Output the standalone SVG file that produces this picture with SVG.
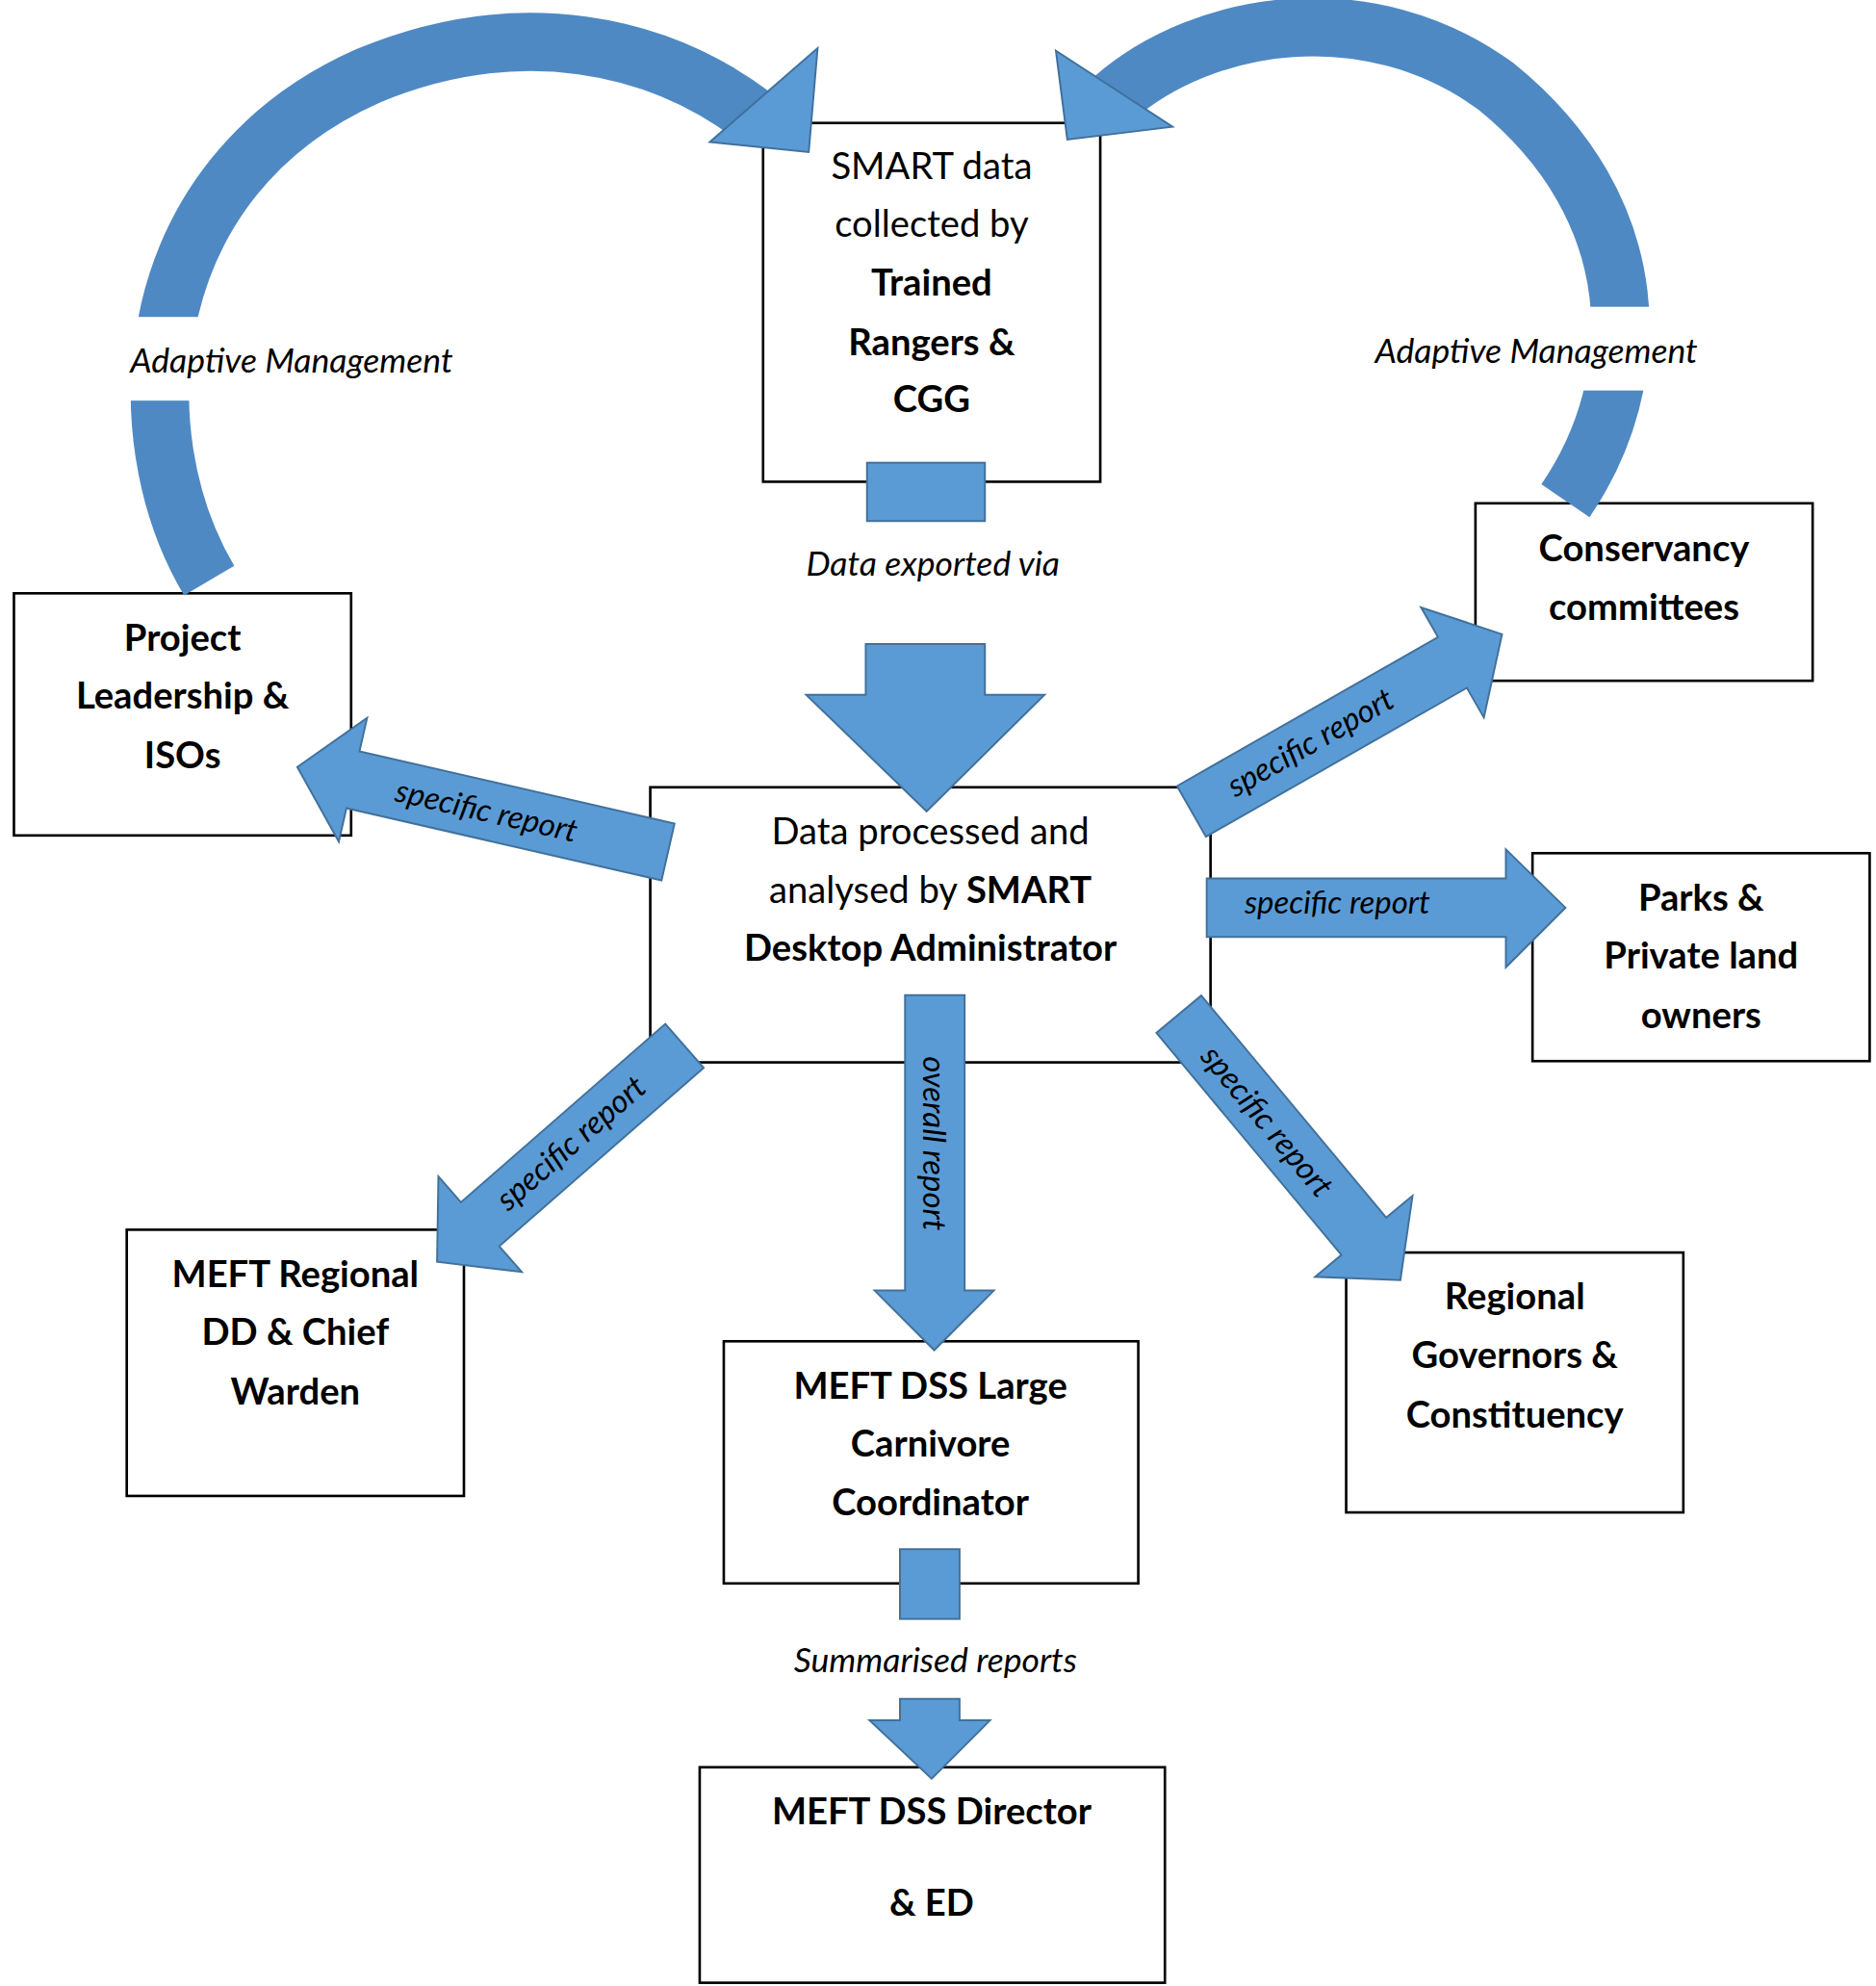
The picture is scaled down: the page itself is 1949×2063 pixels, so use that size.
<svg xmlns="http://www.w3.org/2000/svg" width="1949" height="2063" viewBox="0 0 1949 2063">
<style>
.box{fill:#fff;stroke:#000;stroke-width:2}
.ar{fill:#5b9bd5;stroke:#41719c;stroke-width:1.5}
.arc{fill:none;stroke:#4f89c3;stroke-width:46}
.t{font-family:Lato,"Open Sans",sans-serif;font-size:29px;text-anchor:middle;fill:#000}
.b{font-weight:bold}
.i{font-style:italic;font-size:27px}
.s{font-family:Lato,"Open Sans",sans-serif;font-style:italic;font-size:25px;text-anchor:middle;fill:#000}
</style>
<rect width="1949" height="2063" fill="#fff"/>
<g transform="scale(1.3169)">
<g id="smart"><rect class="box" x="602" y="97" width="266" height="283"/>
  <text class="t" x="735" y="141">SMART data</text><text class="t" x="735" y="187">collected by</text>
  <text class="t b" x="735" y="233">Trained</text><text class="t b" x="735" y="280">Rangers &amp;</text><text class="t b" x="735" y="325">CGG</text></g>
<g id="center"><rect class="box" x="513" y="621" width="442" height="217"/>
  <text class="t" x="734" y="666">Data processed and</text>
  <text class="t" x="734" y="712">analysed by <tspan class="b">SMART</tspan></text>
  <text class="t b" x="734" y="758">Desktop Administrator</text></g>
<g id="project"><rect class="box" x="11" y="468" width="266" height="191"/>
  <text class="t b" x="144" y="513">Project</text><text class="t b" x="144" y="559">Leadership &amp;</text><text class="t b" x="144" y="606">ISOs</text></g>
<g id="conservancy"><rect class="box" x="1164" y="397" width="266" height="140"/>
  <text class="t b" x="1297" y="443">Conservancy</text><text class="t b" x="1297" y="489">committees</text></g>
<g id="parks"><rect class="box" x="1209" y="673" width="266" height="164"/>
  <text class="t b" x="1342" y="718">Parks &amp;</text><text class="t b" x="1342" y="764">Private land</text><text class="t b" x="1342" y="811">owners</text></g>
<g id="regional"><rect class="box" x="100" y="970" width="266" height="210"/>
  <text class="t b" x="233" y="1015">MEFT Regional</text><text class="t b" x="233" y="1061">DD &amp; Chief</text><text class="t b" x="233" y="1108">Warden</text></g>
<g id="carnivore"><rect class="box" x="571" y="1058" width="327" height="191"/>
  <text class="t b" x="734" y="1103">MEFT DSS Large</text><text class="t b" x="734" y="1149">Carnivore</text><text class="t b" x="734" y="1195">Coordinator</text></g>
<g id="governors"><rect class="box" x="1062" y="988" width="266" height="205"/>
  <text class="t b" x="1195" y="1033">Regional</text><text class="t b" x="1195" y="1079">Governors &amp;</text><text class="t b" x="1195" y="1126">Constituency</text></g>
<g id="director"><rect class="box" x="552" y="1394" width="367" height="170"/>
  <text class="t b" x="735" y="1439">MEFT DSS Director</text><text class="t b" x="735" y="1511">&amp; ED</text></g>
<g id="connectors">
  <path class="arc" d="M165,458 C95,340 110,140 290,60 C410,10 520,35 595,92"/>
  <polygon class="ar" points="645,38 638,120 560,112"/>
  <path class="arc" d="M1235,395 C1300,300 1300,165 1180,68 C1080,-5 950,15 878,78"/>
  <polygon class="ar" points="833,40 842,110 925,100"/>
  <rect x="60" y="250" width="340" height="66" fill="#fff"/>
  <rect x="1050" y="242" width="330" height="66" fill="#fff"/>
  <rect class="ar" x="684" y="365" width="93" height="46"/>
  <polygon class="ar" points="683,508 777,508 777,548 824,548 731,640 636,548 683,548"/>
  <rect class="ar" x="710" y="1222" width="47" height="55"/>
  <polygon class="ar" points="710,1340 757,1340 757,1357 781,1357 735,1403 686,1357 710,1357"/>
  <polygon class="ar" points="714,785 761,785 761,1018 784,1018 737,1065 690,1018 714,1018"/>
  <g transform="translate(527,672) rotate(192.9)"><polygon class="ar" points="0,-23 255,-23 255,-50 300,0 255,50 255,23 0,23"/></g>
  <g transform="translate(940,640) rotate(-29.7)"><polygon class="ar" points="0,-23 237,-23 237,-50 282,0 237,50 237,23 0,23"/></g>
  <polygon class="ar" points="952,693 1188,693 1188,670 1235,716 1188,763 1188,739 952,739"/>
  <g transform="translate(540,825) rotate(138.9)"><polygon class="ar" points="0,-23 214,-23 214,-50 259,0 214,50 214,23 0,23"/></g>
  <g transform="translate(930,800) rotate(50.2)"><polygon class="ar" points="0,-23 228,-23 228,-50 273,0 228,50 228,23 0,23"/></g>
  <text class="s" transform="translate(382,648) rotate(12.9)">specific report</text>
  <text class="s" transform="translate(1038,593) rotate(-29.7)">specific report</text>
  <text class="s" x="1055" y="721">specific report</text>
  <text class="s" transform="translate(456,908) rotate(-41)">specific report</text>
  <text class="s" transform="translate(993,890) rotate(50.2)">specific report</text>
  <text class="s" transform="translate(728,902) rotate(90)">overall report</text>
  <text class="t i" x="230" y="294">Adaptive Management</text>
  <text class="t i" x="1212" y="286">Adaptive Management</text>
  <text class="t i" x="736" y="454">Data exported via</text>
  <text class="t i" x="738" y="1319">Summarised reports</text>
</g>
</g>
</svg>
